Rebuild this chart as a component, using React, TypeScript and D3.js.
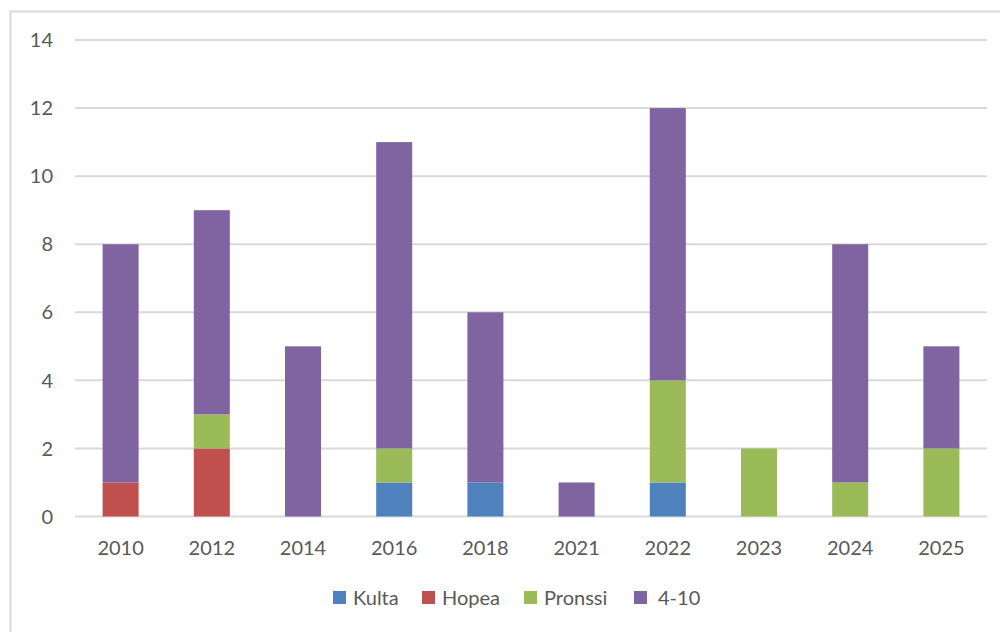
import React from "react";
import * as d3 from "d3";

const categories = ["2010", "2012", "2014", "2016", "2018", "2021", "2022", "2023", "2024", "2025"];
const seriesNames = ["Kulta", "Hopea", "Pronssi", "4-10"];
const kulta = [0, 0, 0, 1, 1, 0, 1, 0, 0, 0];
const hopea = [1, 2, 0, 0, 0, 0, 0, 0, 0, 0];
const pronssi = [0, 1, 0, 1, 0, 0, 3, 2, 1, 2];
const neljaKymmenen = [7, 6, 5, 9, 5, 1, 8, 0, 7, 3];
const yTicks = [0, 2, 4, 6, 8, 10, 12, 14];
const colors = ["#4f81bd", "#c0504d", "#9bbb59", "#8064a2"];

const W = 1000;
const H = 632;
const FONT = "Lato, 'Open Sans', sans-serif";
const TEXT = "#595959";

export default function App() {
  const table = categories.map((c, i) => ({
    cat: c,
    Kulta: kulta[i],
    Hopea: hopea[i],
    Pronssi: pronssi[i],
    "4-10": neljaKymmenen[i],
  }));
  const stacked = d3.stack<any>().keys(seriesNames)(table);

  const x = d3.scaleBand<string>().domain(categories).range([75, 987]).paddingInner(0.605).paddingOuter(0.3025);
  const y = d3.scaleLinear().domain([0, 14]).range([516.5, 40]);

  const legendItems = [
    { name: "Kulta", sx: 333, tx: 353 },
    { name: "Hopea", sx: 422, tx: 442 },
    { name: "Pronssi", sx: 524, tx: 544 },
    { name: "4-10", sx: 634, tx: 658 },
  ];

  return (
    <div style={{ position: "absolute", left: 0, top: 0 }}>
      <svg width={W} height={H} style={{ display: "block", background: "#fff" }}>
        <rect x={10.5} y={11.5} width={W + 20} height={H + 20} fill="#fff" stroke="#d9d9d9" strokeWidth={2} />
        {yTicks.map((t) => (
          <g key={t}>
            <line x1={75} x2={987} y1={y(t)} y2={y(t)} stroke="#d9d9d9" strokeWidth={2} />
            <text x={53} y={y(t)} dy="0.36em" textAnchor="end" fontFamily={FONT} fontSize={20} fill={TEXT}>
              {t}
            </text>
          </g>
        ))}
        {stacked.map((s, si) => (
          <g key={s.key} fill={colors[si]}>
            {s.map((d, i) =>
              d[1] - d[0] > 0 ? (
                <rect
                  key={i}
                  x={x(categories[i])!}
                  width={x.bandwidth()}
                  y={y(d[1])}
                  height={y(d[0]) - y(d[1])}
                />
              ) : null
            )}
          </g>
        ))}
        {categories.map((c) => (
          <text
            key={c}
            x={x(c)! + x.bandwidth() / 2}
            y={548}
            dy="0.36em"
            textAnchor="middle"
            fontFamily={FONT}
            fontSize={20}
            fill={TEXT}
          >
            {c}
          </text>
        ))}
        {legendItems.map((l, i) => (
          <g key={l.name}>
            <rect x={l.sx} y={591} width={13} height={13} fill={colors[i]} />
            <text x={l.tx} y={598} dy="0.36em" fontFamily={FONT} fontSize={20} fill={TEXT}>
              {l.name}
            </text>
          </g>
        ))}
      </svg>
    </div>
  );
}
